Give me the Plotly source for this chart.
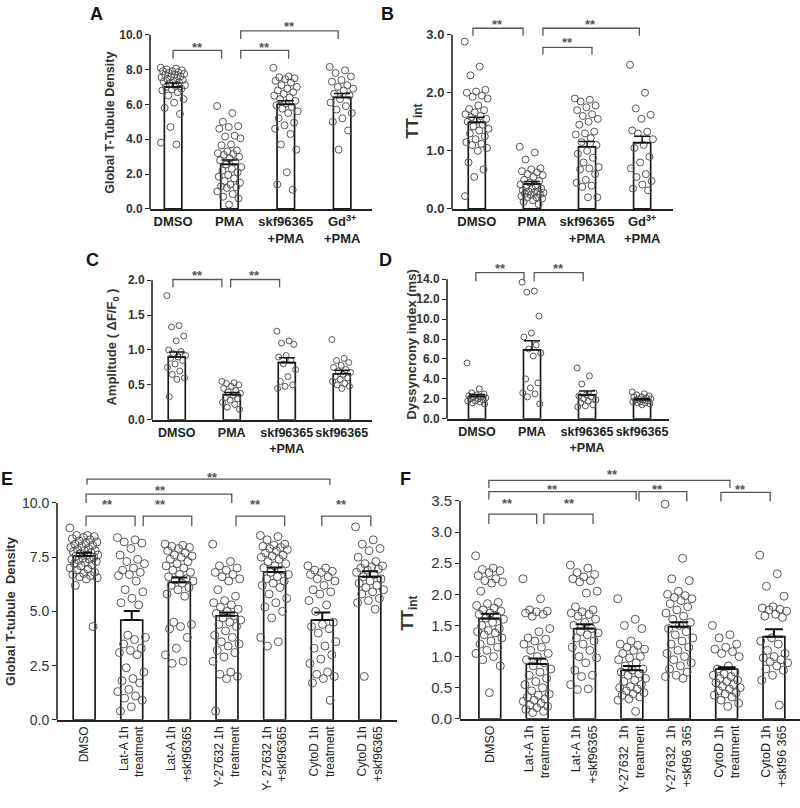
import plotly.graph_objects as go

W, H = 800, 808
FONT = "Liberation Sans, Arial, sans-serif"

# ---------------- Panel A : Global T-Tubule Density ----------------
A_labels = ["DMSO", "PMA", "skf96365<br>+PMA", "Gd<sup>3+</sup><br>+PMA"]
A_means = [7.0, 2.56, 6.0, 6.4]
A_sems = [0.22, 0.24, 0.2, 0.22]
A_dmso = [8.1, 8.05, 8.0, 7.95, 7.9, 7.9, 7.85, 7.8, 7.75, 7.7, 7.7, 7.6, 7.6, 7.55, 7.5, 7.45,
          7.4, 7.35, 7.3, 7.25, 7.2, 7.1, 7.05, 7.0, 6.9, 6.85, 6.8, 6.7, 6.5, 6.3, 6.1, 5.8,
          5.45, 4.7, 3.8, 3.7]
A_pma = [5.9, 5.5, 5.0, 4.75, 4.7, 4.6, 4.2, 4.15, 4.05, 3.7, 3.65, 3.35, 3.3, 3.2, 3.15, 3.1,
         3.0, 2.9, 2.8, 2.7, 2.55, 2.4, 2.3, 2.2, 2.1, 1.95, 1.85, 1.75, 1.6, 1.5, 1.4, 1.3,
         1.25, 1.2, 1.0, 0.85, 0.7, 0.6, 0.25]
A_skf_pma = [8.1, 7.6, 7.55, 7.5, 7.45, 7.35, 7.25, 7.1, 7.0, 6.9, 6.8, 6.7, 6.6, 6.5, 6.4, 6.3,
             6.2, 6.05, 5.95, 5.85, 5.75, 5.6, 5.5, 5.2, 4.95, 4.8, 4.6, 4.3, 3.7, 3.4, 2.1, 1.4, 1.1]
A_gd_pma = [8.15, 7.95, 7.8, 7.6, 7.4, 7.3, 7.1, 7.0, 6.9, 6.8, 6.6, 6.5, 6.3, 6.1, 5.9, 5.7,
            5.5, 5.2, 5.0, 4.5, 3.4]
A_ticks = [0, 2, 4, 6, 8, 10]
# (x_left, x_right, y_top, y_leg, x_stars, y_stars)
A_brackets = [(0.0, 0.86, 9.1, 8.62, 0.43, 9.43), (1.2, 2.05, 9.1, 8.62, 1.62, 9.43),
              (1.2, 2.93, 10.22, 9.75, 2.06, 10.63)]

# ---------------- Panel B : TTint ----------------
B_labels = A_labels
B_means = [1.49, 0.43, 1.07, 1.14]
B_sems = [0.09, 0.04, 0.09, 0.11]
B_dmso = [2.88, 2.45, 2.3, 2.05, 2.02, 2.0, 1.95, 1.93, 1.9, 1.78, 1.72, 1.7, 1.66, 1.63, 1.6,
          1.58, 1.55, 1.52, 1.5, 1.45, 1.42, 1.38, 1.35, 1.3, 1.25, 1.2, 1.15, 1.12, 1.1, 1.05,
          1.0, 0.8, 0.68, 0.55, 0.22]
B_pma = [1.07, 0.97, 0.85, 0.7, 0.68, 0.65, 0.63, 0.6, 0.58, 0.55, 0.5, 0.48, 0.45, 0.42, 0.4,
         0.38, 0.35, 0.35, 0.32, 0.3, 0.3, 0.28, 0.28, 0.26, 0.25, 0.24, 0.22, 0.2, 0.2, 0.18,
         0.15, 0.12, 0.08]
B_skf_pma = [1.9, 1.88, 1.85, 1.78, 1.75, 1.7, 1.63, 1.6, 1.55, 1.5, 1.45, 1.33, 1.3, 1.28, 1.22,
             1.15, 1.1, 1.0, 0.95, 0.88, 0.8, 0.72, 0.7, 0.68, 0.6, 0.5, 0.45, 0.4, 0.38, 0.2, 0.2]
B_gd_pma = [2.48, 2.0, 1.73, 1.62, 1.55, 1.35, 1.33, 1.3, 1.2, 1.1, 1.05, 0.9, 0.8, 0.7, 0.6,
            0.55, 0.48, 0.42, 0.35, 0.32]
B_ticks = [0, 1, 2, 3]
B_brackets = [(-0.07, 0.84, 3.11, 2.98, 0.38, 3.23), (1.2, 2.09, 2.78, 2.66, 1.64, 2.91),
              (1.2, 2.95, 3.11, 2.98, 2.07, 3.23)]

# ---------------- Panel C : Amplitude ----------------
C_labels = ["DMSO", "PMA", "skf96365<br>+PMA", "skf96365"]
C_means = [0.9, 0.36, 0.82, 0.66]
C_sems = [0.07, 0.03, 0.07, 0.05]
C_dmso = [1.78, 1.35, 1.33, 1.2, 1.13, 1.0, 0.98, 0.95, 0.92, 0.9, 0.88, 0.85, 0.8, 0.75, 0.7,
          0.65, 0.6, 0.58, 0.33]
C_pma = [0.55, 0.53, 0.52, 0.5, 0.48, 0.45, 0.42, 0.4, 0.38, 0.35, 0.32, 0.3, 0.28, 0.25, 0.22,
         0.18, 0.15]
C_skf_pma = [1.27, 1.13, 1.1, 1.08, 0.92, 0.9, 0.85, 0.8, 0.72, 0.62, 0.55, 0.5, 0.48, 0.45]
C_skf = [1.15, 0.88, 0.85, 0.82, 0.78, 0.75, 0.72, 0.7, 0.68, 0.65, 0.62, 0.6, 0.58, 0.55, 0.52,
         0.5, 0.48, 0.45]
C_ticks = [0, 0.5, 1.0, 1.5, 2.0]
C_brackets = [(-0.07, 0.82, 2.01, 1.9, 0.38, 2.11), (0.98, 1.87, 2.01, 1.9, 1.42, 2.11)]

# ---------------- Panel D : Dyssyncrony index ----------------
D_labels = C_labels
D_means = [2.24, 6.92, 2.4, 1.9]
D_sems = [0.2, 0.9, 0.4, 0.12]
D_dmso = [5.6, 3.0, 2.6, 2.5, 2.4, 2.3, 2.2, 2.2, 2.1, 2.0, 2.0, 1.9, 1.8, 1.8, 1.7, 1.6, 1.5]
D_pma = [13.7, 12.8, 12.7, 10.3, 8.6, 8.2, 7.4, 7.0, 6.6, 6.3, 4.0, 3.6, 3.1, 2.6, 2.5, 2.2, 1.5]
D_skf_pma = [5.1, 4.3, 3.5, 2.6, 2.4, 2.3, 2.2, 2.0, 1.9, 1.8, 1.6, 1.4, 1.3, 1.2]
D_skf = [2.7, 2.5, 2.4, 2.3, 2.2, 2.2, 2.1, 2.0, 2.0, 1.9, 1.9, 1.8, 1.7, 1.7, 1.6, 1.6, 1.5, 1.4]
D_ticks = [0, 2, 4, 6, 8, 10, 12, 14]
D_brackets = [(-0.02, 0.855, 14.65, 13.8, 0.42, 15.4), (1.04, 1.93, 14.65, 13.8, 1.48, 15.4)]

# ---------------- Panel E : Global T-tubule Density (cytoskeleton) ----------------
E_labels = ["DMSO", "Lat-A 1h<br>treatment", "Lat-A 1h<br>+skf96365", "Y-27632 1h<br>treatment",
            "Y- 27632 1h<br>+skf96365", "CytoD 1h<br>treatment", "CytoD 1h<br>+skf96365"]
E_means = [7.56, 4.6, 6.34, 4.8, 6.82, 4.6, 6.6]
E_sems = [0.15, 0.42, 0.22, 0.15, 0.2, 0.35, 0.25]
E_dmso = [8.85, 8.5, 8.5, 8.45, 8.4, 8.35, 8.3, 8.25, 8.2, 8.15, 8.1, 8.05, 8.0, 7.95, 7.9, 7.85,
          7.8, 7.8, 7.75, 7.7, 7.65, 7.6, 7.6, 7.55, 7.5, 7.45, 7.4, 7.4, 7.35, 7.3, 7.25, 7.2,
          7.15, 7.1, 7.0, 6.95, 6.9, 6.8, 6.75, 6.7, 6.65, 6.6, 6.55, 6.5, 6.2, 4.3]
E_lata = [8.4, 8.3, 8.2, 8.15, 7.9, 7.6, 7.4, 7.3, 7.2, 7.0, 6.9, 6.8, 6.7, 6.65, 6.4, 6.0, 5.9,
          5.6, 5.4, 5.3, 3.9, 3.8, 3.7, 3.5, 3.3, 3.2, 3.1, 3.0, 2.4, 2.2, 1.9, 1.8, 1.7, 1.4,
          1.3, 1.1, 1.0, 0.9, 0.6, 0.4]
E_lata_skf = [8.1, 8.05, 8.0, 7.95, 7.9, 7.8, 7.7, 7.6, 7.55, 7.5, 7.4, 7.3, 7.2, 7.1, 7.0, 6.9,
              6.8, 6.7, 6.6, 6.5, 6.45, 6.4, 6.3, 6.2, 6.1, 6.0, 5.8, 5.7, 4.5, 4.4, 4.3, 4.2,
              3.8, 3.3, 3.0, 2.7, 2.6]
E_y = [8.1, 7.3, 7.1, 7.0, 6.9, 6.8, 6.7, 6.6, 6.5, 6.4, 6.0, 5.7, 5.5, 5.4, 5.3, 5.2, 5.1, 5.0,
       4.9, 4.8, 4.7, 4.6, 4.5, 4.4, 4.3, 4.1, 3.9, 3.8, 3.6, 3.5, 3.4, 3.2, 3.1, 2.9, 2.7, 2.2,
       2.1, 2.0, 1.9, 0.4]
E_y_skf = [8.5, 8.45, 8.3, 8.1, 8.05, 8.0, 7.95, 7.9, 7.85, 7.8, 7.7, 7.6, 7.55, 7.5, 7.4, 7.3,
           7.2, 7.1, 7.0, 6.9, 6.8, 6.7, 6.6, 6.5, 6.4, 6.3, 6.2, 6.1, 5.8, 5.6, 5.4, 5.2, 5.0,
           4.7, 3.8, 3.6, 3.4]
E_cyto = [7.1, 7.0, 6.9, 6.85, 6.8, 6.7, 6.6, 6.5, 6.4, 6.2, 6.0, 5.9, 5.8, 5.5, 5.3, 5.0, 4.5,
          4.4, 4.3, 4.2, 4.0, 3.6, 3.4, 3.3, 3.0, 2.8, 2.6, 2.2, 2.1, 2.0, 1.9, 1.7, 0.9]
E_cyto_skf = [8.9, 8.3, 8.1, 7.9, 7.8, 7.5, 7.3, 7.2, 7.1, 7.05, 7.0, 6.95, 6.9, 6.8, 6.7, 6.6,
              6.5, 6.4, 6.3, 6.2, 6.1, 6.0, 5.9, 5.8, 5.6, 5.5, 5.4, 5.1, 2.0]
E_ticks = [0, 2.5, 5.0, 7.5, 10.0]
E_brackets = [(0.04, 1.07, 9.39, 8.93, 0.5, 10.05), (1.24, 2.26, 9.39, 8.93, 1.6, 10.05),
              (3.19, 4.21, 9.39, 8.93, 3.6, 10.05), (4.99, 6.02, 9.39, 8.93, 5.4, 10.05),
              (0.04, 3.1, 10.41, 10.0, 1.6, 10.72), (0.06, 5.16, 11.1, 10.84, 2.7, 11.32)]

# ---------------- Panel F : TTint (cytoskeleton) ----------------
F_labels = ["DMSO", "Lat-A 1h<br>treatment", "Lat-A 1h<br>+skf96365", "Y-27632  1h<br>treatment",
            "Y-27632  1h<br>+skf96 365", "CytoD 1h<br>treatment", "CytoD 1h<br>+skf96 365"]
F_means = [1.61, 0.88, 1.45, 0.78, 1.48, 0.8, 1.32]
F_sems = [0.08, 0.09, 0.07, 0.07, 0.07, 0.03, 0.12]
F_dmso = [2.62, 2.42, 2.4, 2.38, 2.35, 2.3, 2.25, 2.22, 2.2, 2.18, 2.05, 1.87, 1.85, 1.82, 1.78,
          1.75, 1.73, 1.7, 1.68, 1.65, 1.62, 1.6, 1.55, 1.5, 1.45, 1.42, 1.4, 1.38, 1.35, 1.3,
          1.25, 1.2, 1.15, 1.1, 1.05, 1.0, 0.95, 0.85, 0.42]
F_lata = [2.25, 1.93, 1.75, 1.73, 1.72, 1.7, 1.68, 1.65, 1.45, 1.4, 1.3, 1.28, 1.25, 1.2, 1.15,
          1.1, 1.05, 1.0, 0.95, 0.9, 0.85, 0.8, 0.75, 0.7, 0.65, 0.6, 0.55, 0.5, 0.45, 0.4, 0.38,
          0.35, 0.32, 0.3, 0.28, 0.25, 0.22, 0.2, 0.18, 0.15, 0.12, 0.1]
F_lata_skf = [2.47, 2.42, 2.35, 2.32, 2.28, 2.25, 2.22, 2.2, 2.05, 2.02, 1.8, 1.75, 1.72, 1.7,
              1.68, 1.65, 1.6, 1.55, 1.5, 1.45, 1.4, 1.38, 1.35, 1.3, 1.25, 1.2, 1.15, 1.1, 1.0,
              0.98, 0.9, 0.78, 0.7, 0.68, 0.55, 0.48, 0.47]
F_y = [1.93, 1.6, 1.5, 1.45, 1.25, 1.2, 1.18, 1.15, 1.12, 1.1, 1.05, 1.0, 0.98, 0.95, 0.9, 0.85,
       0.8, 0.78, 0.75, 0.72, 0.7, 0.65, 0.62, 0.6, 0.55, 0.52, 0.5, 0.48, 0.45, 0.42, 0.4, 0.38,
       0.35, 0.32, 0.3, 0.12]
F_y_skf = [3.45, 2.58, 2.25, 2.22, 2.05, 2.0, 1.98, 1.95, 1.93, 1.9, 1.85, 1.8, 1.75, 1.7, 1.65,
           1.6, 1.55, 1.5, 1.45, 1.4, 1.35, 1.3, 1.25, 1.2, 1.15, 1.1, 1.05, 1.0, 0.95, 0.9,
           0.85, 0.8, 0.75, 0.7, 0.68, 0.65]
F_cyto = [1.5, 1.35, 1.3, 1.2, 1.15, 1.12, 1.08, 1.05, 1.0, 0.85, 0.8, 0.75, 0.72, 0.7, 0.68,
          0.65, 0.62, 0.6, 0.58, 0.55, 0.52, 0.5, 0.48, 0.45, 0.42, 0.4, 0.38, 0.35, 0.3, 0.25, 0.2]
F_cyto_skf = [2.63, 2.33, 2.13, 1.97, 1.8, 1.78, 1.76, 1.75, 1.73, 1.68, 1.65, 1.63, 1.3, 1.25,
              1.2, 1.1, 1.05, 1.0, 0.98, 0.95, 0.92, 0.9, 0.85, 0.8, 0.78, 0.7, 0.62, 0.22]
F_ticks = [0, 0.5, 1.0, 1.5, 2.0, 2.5, 3.0, 3.5]
F_brackets = [(-0.02, 0.99, 3.29, 3.13, 0.38, 3.5), (1.14, 2.18, 3.29, 3.13, 1.68, 3.5),
              (-0.02, 3.09, 3.65, 3.52, 1.33, 3.74), (3.15, 4.16, 3.65, 3.49, 3.55, 3.74),
              (4.88, 5.92, 3.64, 3.49, 5.3, 3.74), (-0.02, 5.07, 3.83, 3.71, 2.6, 3.97)]

# ---------------- Panel styling / placement (pixels) ----------------
panels = [
    dict(letter="A", letter_px=(96, 14), labels=A_labels, means=A_means, sems=A_sems,
         points=[A_dmso, A_pma, A_skf_pma, A_gd_pma], ticks=A_ticks, brackets=A_brackets,
         px_x=(150, 372), px_y0=211, px_ytop=35, xr=(-0.41, 3.53), ext=10.9,
         barw=0.31, jit=0.22, msize=7, tickfmt=".1f", ticksize=12, tickbold=True,
         catsize=13, catbold=True, catangle=0, errw=8,
         title="Global T-Tubule Density", title_px=(110, 124), title_size=12.5),
    dict(letter="B", letter_px=(387, 14), labels=B_labels, means=B_means, sems=B_sems,
         points=[B_dmso, B_pma, B_skf_pma, B_gd_pma], ticks=B_ticks, brackets=B_brackets,
         px_x=(452, 673), px_y0=211, px_ytop=35, xr=(-0.45, 3.56), ext=3.35,
         barw=0.31, jit=0.22, msize=7, tickfmt=".1f", ticksize=13, tickbold=True,
         catsize=13, catbold=True, catangle=0, errw=8,
         title="TT<sub>int</sub>", title_px=(414, 122), title_size=17),
    dict(letter="C", letter_px=(92, 263), labels=C_labels, means=C_means, sems=C_sems,
         points=[C_dmso, C_pma, C_skf_pma, C_skf], ticks=C_ticks, brackets=C_brackets,
         px_x=(152, 372), px_y0=424, px_ytop=283, xr=(-0.45, 3.55), ext=2.2,
         barw=0.31, jit=0.18, msize=6, tickfmt=".1f", ticksize=12, tickbold=True,
         catsize=12.5, catbold=True, catangle=0, errw=8,
         title="Amplitude ( ΔF/F<sub>0</sub> )", title_px=(113, 350), title_size=13),
    dict(letter="D", letter_px=(385, 263), labels=D_labels, means=D_means, sems=D_sems,
         points=[D_dmso, D_pma, D_skf_pma, D_skf], ticks=D_ticks, brackets=D_brackets,
         px_x=(447, 669), px_y0=423, px_ytop=282, xr=(-0.545, 3.49), ext=15.9,
         barw=0.31, jit=0.18, msize=6, tickfmt=".1f", ticksize=12, tickbold=True,
         catsize=12.5, catbold=True, catangle=0, errw=8,
         title="Dyssyncrony index (ms)", title_px=(412, 348), title_size=13),
    dict(letter="E", letter_px=(7, 484), labels=E_labels, means=E_means, sems=E_sems,
         points=[E_dmso, E_lata, E_lata_skf, E_y, E_y_skf, E_cyto, E_cyto_skf], ticks=E_ticks,
         brackets=E_brackets,
         px_x=(57, 397), px_y0=727, px_ytop=508, xr=(-0.57, 6.57), ext=11.6,
         barw=0.46, jit=0.3, msize=8, tickfmt=".1f", ticksize=14, tickbold=False,
         catsize=12, catbold=False, catangle=-90, errw=8,
         title="Global T-tubule  Density", title_px=(11, 617), title_size=13),
    dict(letter="F", letter_px=(406, 484), labels=F_labels, means=F_means, sems=F_sems,
         points=[F_dmso, F_lata, F_lata_skf, F_y, F_y_skf, F_cyto, F_cyto_skf], ticks=F_ticks,
         brackets=F_brackets,
         px_x=(460, 800), px_y0=726, px_ytop=506, xr=(-0.63, 6.55), ext=4.05,
         barw=0.46, jit=0.3, msize=8, tickfmt=".1f", ticksize=15, tickbold=False,
         catsize=12.5, catbold=False, catangle=-90, errw=9,
         title="TT<sub>int</sub>", title_px=(409, 620), title_size=17),
]

GOLD = 0.6180339887

fig = go.Figure()
layout = dict(width=W, height=H, margin=dict(l=0, r=0, t=0, b=0),
              paper_bgcolor="white", plot_bgcolor="white", showlegend=False,
              font=dict(family=FONT, color="#333"))
shapes = []
annotations = []

for i, p in enumerate(panels, start=1):
    sfx = "" if i == 1 else str(i)
    xref, yref = "x" + sfx, "y" + sfx
    n = len(p["labels"])
    top_tick = p["ticks"][-1]
    ppu = (p["px_y0"] - p["px_ytop"]) / top_tick
    top_px = p["px_y0"] - p["ext"] * ppu
    ydom = [1 - p["px_y0"] / H, 1 - top_px / H]
    xdom = [p["px_x"][0] / W, p["px_x"][1] / W]

    # bars
    fig.add_trace(go.Bar(x=list(range(n)), y=p["means"], width=p["barw"],
                         marker=dict(color="white", line=dict(color="#1a1a1a", width=1.7)),
                         xaxis=xref, yaxis=yref, hoverinfo="skip"))
    # individual points
    for k, vals in enumerate(p["points"]):
        xs = [k + ((j * GOLD) % 1.0 - 0.5) * 2 * p["jit"] for j in range(len(vals))]
        fig.add_trace(go.Scatter(x=xs, y=vals, mode="markers", xaxis=xref, yaxis=yref,
                                 marker=dict(symbol="circle-open", size=p["msize"], color="#555",
                                             line=dict(width=1, color="#555")),
                                 cliponaxis=False, hoverinfo="skip"))
    # SEM error bars (upper only)
    fig.add_trace(go.Scatter(x=list(range(n)), y=p["means"], mode="markers",
                             xaxis=xref, yaxis=yref, hoverinfo="skip",
                             marker=dict(size=2, color="rgba(0,0,0,0)"),
                             error_y=dict(type="data", array=p["sems"], arrayminus=[0] * n,
                                          symmetric=False, color="#111",
                                          thickness=2 if i > 4 else 1.5, width=p["errw"])))

    tickfont = dict(size=p["ticksize"], color="#333", family=FONT,
                    weight="bold" if p["tickbold"] else "normal")
    catfont = dict(size=p["catsize"], color="#222", family=FONT,
                   weight="bold" if p["catbold"] else "normal")
    layout["xaxis" + sfx] = dict(domain=xdom, range=list(p["xr"]), anchor=yref,
                                 tickvals=list(range(n)), ticktext=p["labels"],
                                 tickangle=p["catangle"], tickfont=catfont,
                                 showline=True, linecolor="#222", linewidth=1.5,
                                 ticks="", showgrid=False, zeroline=False, fixedrange=True)
    layout["yaxis" + sfx] = dict(domain=ydom, range=[0, p["ext"]], anchor=xref,
                                 tickvals=p["ticks"], tickformat=p["tickfmt"], tickfont=tickfont,
                                 ticks="outside", ticklen=4, tickwidth=1.2, tickcolor="#222",
                                 showline=False, showgrid=False, zeroline=False, fixedrange=True)
    # visible y-axis line only up to top tick
    shapes.append(dict(type="line", xref=xref + " domain", yref=yref + " domain",
                       x0=0, x1=0, y0=0, y1=top_tick / p["ext"],
                       line=dict(color="#222", width=1.6)))
    # significance brackets
    for (x1, x2, yt, yl, xs_, ys_) in p["brackets"]:
        shapes.append(dict(type="path", xref=xref, yref=yref,
                           path=f"M {x1},{yl} L {x1},{yt} L {x2},{yt} L {x2},{yl}",
                           line=dict(color="#555", width=1.3)))
        annotations.append(dict(x=xs_, y=ys_, xref=xref, yref=yref, text="**",
                                showarrow=False, yshift=-3,
                                font=dict(size=13, color="#555", family=FONT, weight="bold")))
    # axis title
    annotations.append(dict(x=p["title_px"][0] / W, y=1 - p["title_px"][1] / H,
                            xref="paper", yref="paper", text=p["title"], textangle=-90,
                            showarrow=False, xanchor="center", yanchor="middle",
                            font=dict(size=p["title_size"], color="#333", family=FONT,
                                      weight="bold")))
    # panel letter
    annotations.append(dict(x=p["letter_px"][0] / W, y=1 - p["letter_px"][1] / H,
                            xref="paper", yref="paper", text=p["letter"], showarrow=False,
                            xanchor="center", yanchor="middle",
                            font=dict(size=18, color="#111", family=FONT, weight="bold")))

layout["shapes"] = shapes
layout["annotations"] = annotations
fig.update_layout(**layout)
fig.write_html("out.html", config={"displayModeBar": False},
               post_script="document.body.style.margin='0px';document.body.style.overflow='hidden';")
